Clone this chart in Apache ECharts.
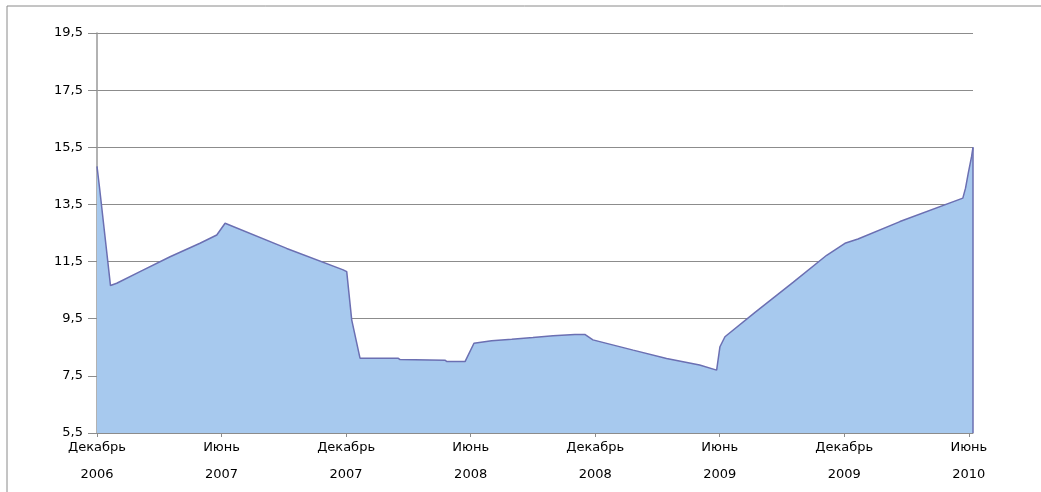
<!DOCTYPE html>
<html>
<head>
<meta charset="utf-8">
<script src="https://cdn.jsdelivr.net/npm/echarts@6/dist/echarts.min.js"></script>
<style>
    html, body {margin: 0; padding: 0; background: #fff;}
    #chart {width: 1041px; height: 492px;}
</style>
</head>
<body>
<div id="chart"></div>
<script>
// месяцы от декабря 2006 (0 = Декабрь 2006)
const months = [0, 0.12, 0.65, 0.95, 2.07, 3.52, 4.96, 5.77, 6.17, 9.14, 11.86, 12.03, 12.27, 12.67,
    14.5, 14.6, 16.76, 16.86, 17.73, 18.16, 19.01, 19.98, 21.0, 21.97, 23.02, 23.5, 23.89, 25.83,
    27.44, 29.03, 29.85, 30.01, 30.25, 31.7, 33.53, 35.15, 36.03, 36.66, 38.68, 41.71, 41.84,
    41.97, 42.13, 42.2];
const values = [14.83, 14.1, 10.66, 10.74, 11.15, 11.67, 12.14, 12.43, 12.84, 11.96, 11.21, 11.15, 9.46, 8.12,
    8.12, 8.07, 8.05, 8.0, 8.0, 8.64, 8.73, 8.78, 8.84, 8.9, 8.95, 8.95, 8.76, 8.4,
    8.11, 7.88, 7.7, 8.52, 8.87, 9.72, 10.77, 11.72, 12.14, 12.29, 12.9, 13.72, 14.07,
    14.59, 15.17, 15.5];
const xTickValues = [0, 6, 12, 18, 24, 30, 36, 42];
const xTickLabels = ['Декабрь\n2006', 'Июнь\n2007', 'Декабрь\n2007', 'Июнь\n2008',
    'Декабрь\n2008', 'Июнь\n2009', 'Декабрь\n2009', 'Июнь\n2010'];
const yMin = 5.5, yMax = 19.5, yStep = 2;

const chart = echarts.init(document.getElementById('chart'));
const points = months.map(function (m, i) {
    return [m, values[i]];
});
const lastX = months[months.length - 1];
const lastY = values[values.length - 1];
const font = '"DejaVu Sans", Arial, sans-serif';

const option = {
    animation: false,
    backgroundColor: '#fff',
    textStyle: {fontFamily: font},
    // рамка диаграммы
    graphic: [{
        type: 'rect',
        shape: {x: 7, y: 6, width: 1200, height: 700},
        style: {fill: 'none', stroke: '#8a8a8a', lineWidth: 1}
    }],
    grid: {left: 97, right: 68, top: 33, bottom: 59},
    xAxis: {
        type: 'value',
        min: 0,
        max: lastX,
        splitLine: {show: false},
        axisLine: {lineStyle: {color: '#8c8c8c', width: 1}},
        axisTick: {
            show: true,
            length: 4,
            customValues: xTickValues,
            lineStyle: {color: '#8c8c8c'}
        },
        axisLabel: {
            customValues: xTickValues,
            margin: 1,
            color: '#000',
            fontSize: 13,
            lineHeight: 27,
            fontFamily: font,
            formatter: function (v) {
                const i = xTickValues.indexOf(Math.round(v));
                return i >= 0 ? xTickLabels[i] : '';
            }
        }
    },
    yAxis: {
        type: 'value',
        min: yMin,
        max: yMax,
        interval: yStep,
        axisLine: {show: true, lineStyle: {color: '#999', width: 1.5}},
        axisTick: {show: true, length: 9, lineStyle: {color: '#8c8c8c'}},
        splitLine: {show: true, lineStyle: {color: '#8c8c8c', width: 1}},
        axisLabel: {
            margin: 14,
            color: '#000',
            fontSize: 13,
            fontFamily: font,
            formatter: function (v) {
                return v.toFixed(1).replace('.', ',');
            }
        }
    },
    series: [{
        type: 'line',
        data: points,
        symbol: 'none',
        lineStyle: {color: '#6b6fb2', width: 1.5},
        areaStyle: {color: '#a7c9ee', opacity: 1, origin: 'start'},
        markLine: {
            silent: true,
            symbol: 'none',
            label: {show: false},
            lineStyle: {color: '#6b6fb2', width: 1.5, type: 'solid'},
            data: [[{coord: [lastX, yMin]}, {coord: [lastX, lastY]}]]
        }
    }]
};
chart.setOption(option);
</script>
</body>
</html>
